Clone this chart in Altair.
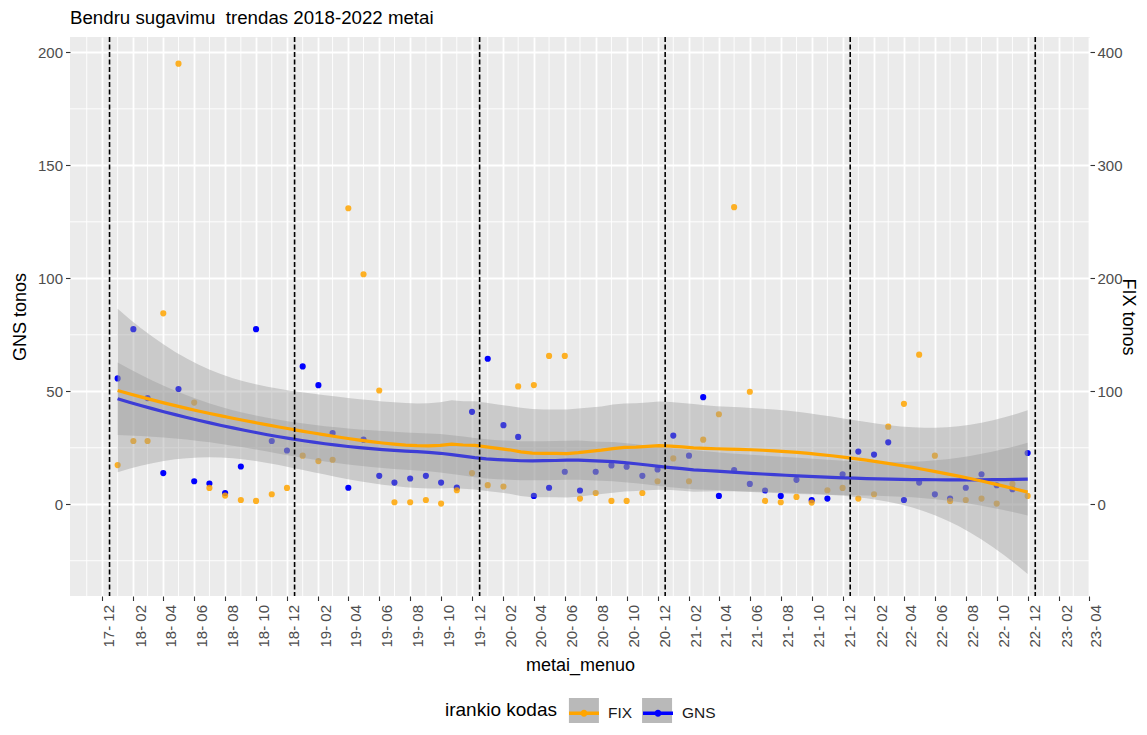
import numpy as np
import pandas as pd
import altair as alt

FONT = "Liberation Sans"

# ---- data (monthly, Jan 2018 .. Dec 2022) ----
month_start = "2018-01-01"
month_end = "2022-12-01"
gns = [55.7, 77.5, 47.0, 13.8, 51.0, 10.2, 9.2, 5.0, 16.7, 77.5, 28.0, 23.8,
       61.0, 52.7, 31.5, 7.3, 28.6, 12.6, 9.6, 11.4, 12.6, 9.6, 7.4, 40.9,
       64.4, 35.0, 29.8, 3.7, 7.3, 14.4, 6.1, 14.4, 17.2, 16.6, 12.6, 15.4,
       30.4, 21.5, 47.4, 3.7, 15.1, 9.0, 6.1, 3.7, 10.8, 1.8, 2.5, 13.3,
       23.3, 22.0, 27.4, 1.9, 9.6, 4.4, 2.5, 7.3, 13.3, 8.4, 6.7, 22.7]
fix = [34.7, 56.0, 56.0, 169.0, 390.0, 90.0, 14.5, 7.7, 3.8, 3.0, 8.9, 14.5,
       43.0, 38.2, 39.4, 262.0, 203.6, 100.7, 1.8, 1.8, 3.8, 0.6, 12.4, 27.6,
       16.9, 15.7, 104.3, 105.5, 131.3, 131.3, 5.0, 10.0, 3.0, 3.0, 10.0, 20.4,
       40.6, 20.4, 57.2, 79.7, 263.0, 99.6, 3.0, 1.8, 6.5, 1.5, 12.4, 14.5,
       5.0, 8.9, 68.7, 88.9, 132.4, 43.0, 3.0, 3.8, 5.0, 0.6, 18.0, 7.4]
series = ["FIX", "GNS"]
colors = ["#FFA500", "#0000FF"]
year_marks = ["2017-12-16", "2018-12-16", "2019-12-16", "2020-12-16", "2021-12-16", "2022-12-16"]
x_ticks = pd.date_range("2017-12-01", "2023-04-01", freq="2MS")
x_minor = pd.date_range("2017-11-01", "2023-03-01", freq="2MS")
y_ticks = [0, 50, 100, 150, 200]
y_minor = [-25, 25, 75, 125, 175]
fix_ticks = [0, 100, 200, 300, 400]
sec_factor = 2.0   # FIX tonos = 2 x GNS tonos
Y_LO, Y_HI = -40.6, 206.8
X_LO, X_HI = "2017-09-29", "2023-04-03"
legend_title = "irankio kodas"

def ms(d):
    return int(pd.Timestamp(d).value // 10**6)

months = pd.date_range(month_start, month_end, freq="MS")
tms = [ms(d) for d in months]

# ---- loess (degree 2, span 0.75) with 95% band, as geom_smooth does ----
def tq975(df):
    z = 1.959963985
    g1 = (z**3 + z) / 4
    g2 = (5*z**5 + 16*z**3 + 3*z) / 96
    g3 = (3*z**7 + 19*z**5 + 17*z**3 - 15*z) / 384
    g4 = (79*z**9 + 776*z**7 + 1482*z**5 - 1920*z**3 - 945*z) / 92160
    return z + g1/df + g2/df**2 + g3/df**3 + g4/df**4

def loess_band(xv, yv, n_out=80, span=0.75):
    x = np.asarray(xv, float)
    y = np.asarray(yv, float)
    n = len(x)
    q = int(np.floor(n * span))
    def row(x0):
        d = np.abs(x - x0)
        h = np.sort(d)[q - 1]
        w = np.clip(1 - (d / h) ** 3, 0, None) ** 3
        X = np.column_stack([np.ones(n), x - x0, (x - x0) ** 2])
        XtW = X.T * w
        A = np.linalg.solve(XtW @ X, XtW)
        return A[0]
    L = np.array([row(v) for v in x])
    I = np.eye(n)
    M = (I - L).T @ (I - L)
    d1 = np.trace(M)
    d2 = np.trace(M @ M)
    res = y - L @ y
    s = np.sqrt(res @ res / d1)
    t = tq975(d1 ** 2 / d2)
    xs = np.linspace(x.min(), x.max(), n_out)
    R = np.array([row(v) for v in xs])
    fit = R @ y
    se = s * np.sqrt((R ** 2).sum(axis=1))
    return xs, fit, fit - t * se, fit + t * se

days = np.array([(d - months[0]).days for d in months], float)
rows = []
for name, vals in [("GNS", np.array(gns)), ("FIX", np.array(fix) / sec_factor)]:
    xs, fit, lo, hi = loess_band(days, vals)
    for xd, f, l, h in zip(xs, fit, lo, hi):
        rows.append({"t": tms[0] + xd * 86400000.0, "series": name, "fit": f, "lo": l, "hi": h})
smooth = pd.DataFrame(rows)

pts = pd.DataFrame({
    "t": tms * 2,
    "series": ["GNS"] * len(gns) + ["FIX"] * len(fix),
    "value": gns + fix,
})
vl = pd.DataFrame({"t": [ms(d) for d in year_marks]})
xminor_df = pd.DataFrame({"t": [ms(d) for d in x_minor]})
yminor_df = pd.DataFrame({"y": y_minor})

# ---- scales / axes ----
def dt(d):
    d = pd.Timestamp(d)
    return alt.DateTime(year=d.year, month=d.month, date=d.day, utc=True)

xscale = alt.Scale(type="utc", domain=[dt(X_LO), dt(X_HI)], nice=False)
lscale = alt.Scale(domain=[Y_LO, Y_HI], nice=False, zero=False)
rscale = alt.Scale(domain=[Y_LO * sec_factor, Y_HI * sec_factor], nice=False, zero=False)

xaxis = alt.Axis(values=[dt(d) for d in x_ticks], format="%y- %m", labelAngle=270,
                 labelAlign="right", labelBaseline="middle", labelOffset=7,
                 labelPadding=4, labelFontSize=15, labelColor="#4D4D4D",
                 labelFlush=False, labelOverlap=False,
                 tickColor="#333333", tickSize=4.5, tickWidth=1.1,
                 domain=False, grid=True, gridColor="white", gridWidth=1.85,
                 title="metai_menuo", titleFontSize=18, titleFontWeight="normal",
                 titleColor="black", titlePadding=9)
x_enc = alt.X("t:T", scale=xscale, axis=xaxis)

laxis = alt.Axis(values=y_ticks, labelFontSize=15, labelColor="#4D4D4D",
                 labelPadding=3, tickColor="#333333", tickSize=4.5, tickWidth=1.1,
                 domain=False, grid=True, gridColor="white", gridWidth=1.85,
                 title="GNS tonos", titleFontSize=18, titleFontWeight="normal",
                 titleColor="black", titlePadding=8)
raxis = alt.Axis(values=fix_ticks, orient="right", labelFontSize=15, labelColor="#4D4D4D",
                 labelPadding=2.5, tickColor="#333333", tickSize=4.5, tickWidth=1.1,
                 domain=False, grid=False,
                 title="FIX tonos", titleFontSize=18, titleFontWeight="normal",
                 titleColor="black", titlePadding=-3.5)

cscale = alt.Scale(domain=series, range=colors)
key_names = [s + "_k" for s in series]
fscale = alt.Scale(domain=key_names, range=["#999999", "#999999"])
sscale = alt.Scale(domain=series, range=colors)

# legend geometry (pixels, relative to plot origin)
LEG_X, LEG_Y = 375, 661
KEY = 30
TITLE_FS, LABEL_FS = 19, 15.5
TITLE_PAD, LABEL_OFF, COL_PAD = 12, 9, 10
# Liberation Sans advance widths (em) to place the key squares under the line keys
title_w = TITLE_FS * (0.222 + 0.333 + 0.556 + 0.556 + 0.5 + 0.222 + 0.556 + 0.278
                      + 0.5 + 0.556 + 0.556 + 0.556 + 0.5)
fix_w = LABEL_FS * (0.611 + 0.278 + 0.667)

key_path = ("M-1,-0.11L1,-0.11L1,0.11L-1,0.11Z"
            "M0.23,0A0.23,0.23,0,1,1,-0.23,0A0.23,0.23,0,1,1,0.23,0Z")
leg_color = alt.Legend(orient="none", legendX=LEG_X, legendY=LEG_Y, direction="horizontal",
                       title=legend_title, titleOrient="left", titleFontSize=TITLE_FS,
                       titleFontWeight="normal", titleColor="black", titlePadding=TITLE_PAD,
                       titleAnchor="middle", titleBaseline="middle",
                       labelFontSize=LABEL_FS, labelColor="#1A1A1A", labelOffset=LABEL_OFF,
                       columnPadding=COL_PAD, symbolSize=KEY * KEY,
                       symbolType=key_path, symbolOpacity=1, symbolStrokeWidth=0, zindex=2)
leg_fill = alt.Legend(orient="none", legendX=LEG_X + title_w + TITLE_PAD, legendY=LEG_Y,
                      direction="horizontal", title=None,
                      labelExpr="''", labelFontSize=LABEL_FS, labelOffset=LABEL_OFF,
                      columnPadding=COL_PAD + fix_w, symbolSize=KEY * KEY,
                      symbolType="square", symbolOpacity=0.69, symbolStrokeWidth=0, zindex=1)

# ---- layers ----
grid_x = alt.Chart(xminor_df).mark_rule(color="white", strokeWidth=0.92).encode(x=x_enc)
grid_y = alt.Chart(yminor_df).mark_rule(color="white", strokeWidth=0.92).encode(
    y=alt.Y("y:Q", scale=lscale, axis=None))

base_pts = alt.Chart(pts)
gns_pts = base_pts.transform_filter(alt.datum.series == "GNS").mark_circle(size=38, opacity=1).encode(
    x=x_enc,
    y=alt.Y("value:Q", scale=lscale, axis=laxis),
    color=alt.Color("series:N", scale=cscale, legend=leg_color),
)
fix_pts = base_pts.transform_filter(alt.datum.series == "FIX").mark_circle(size=38, opacity=0.85).encode(
    x=x_enc,
    y=alt.Y("value:Q", scale=rscale, axis=raxis),
    color=alt.Color("series:N", scale=cscale, legend=leg_color),
)

def ribbon(name):
    return alt.Chart(smooth).transform_filter(alt.datum.series == name).transform_calculate(
        key="datum.series + '_k'"
    ).mark_area(opacity=0.4).encode(
        x=x_enc,
        y=alt.Y("lo:Q", scale=lscale, axis=None),
        y2=alt.Y2("hi:Q"),
        fill=alt.Fill("key:N", scale=fscale, legend=leg_fill),
    )

def sline(name):
    return alt.Chart(smooth).transform_filter(alt.datum.series == name).mark_line(strokeWidth=3.2).encode(
        x=x_enc,
        y=alt.Y("fit:Q", scale=lscale, axis=None),
        stroke=alt.Stroke("series:N", scale=sscale, legend=None),
    )

vlines = alt.Chart(vl).mark_rule(color="black", strokeWidth=1.6, strokeDash=[5, 2.5]).encode(x=x_enc)

chart = alt.layer(
    grid_x, grid_y, gns_pts, fix_pts,
    ribbon("GNS"), sline("GNS"), ribbon("FIX"), sline("FIX"),
    vlines,
).resolve_scale(y="independent").properties(
    width=1020, height=559,
    padding={"left": 62, "top": 29, "right": 49, "bottom": 127},
    autosize=alt.AutoSizeParams(type="none"),
    title=alt.TitleParams("Bendru sugavimu \u00a0trendas 2018-2022 metai", anchor="start",
                          frame="group", fontSize=18.7, font=FONT, fontWeight="normal",
                          color="black", offset=9),
).configure(
    font=FONT, background="white"
).configure_view(
    fill="#EBEBEB", strokeWidth=0
)

chart.save("out.html", embed_options={"renderer": "svg", "actions": False})
